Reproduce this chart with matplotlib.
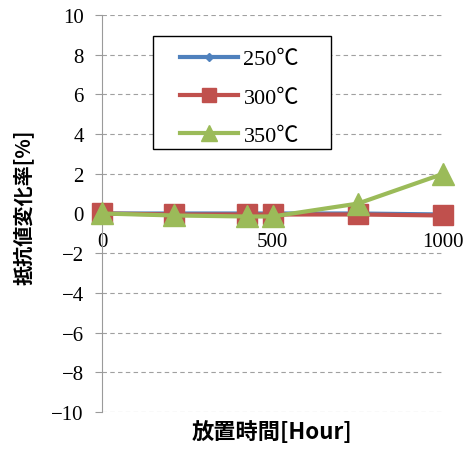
import matplotlib
matplotlib.use("Agg")
import matplotlib.pyplot as plt
from matplotlib.patches import Rectangle

hours = [0, 212, 424, 500, 750, 1000]
s250 = [0.0, 0.0, 0.0, 0.0, 0.0, -0.05]
s300 = [0.0, -0.05, -0.05, -0.05, -0.05, -0.1]
s350 = [0.0, -0.1, -0.15, -0.15, 0.5, 2.0]
series_labels = ["250℃", "300℃", "350℃"]
yticks = [-10, -8, -6, -4, -2, 0, 2, 4, 6, 8, 10]
xticks = [0, 500, 1000]

num_font = ["Liberation Serif", "Noto Sans CJK JP"]
jp_font = ["Noto Sans CJK JP", "DejaVu Sans"]

fig = plt.figure(figsize=(4.7, 4.52), dpi=100)
ax = fig.add_axes([0.217, 0.0863, 0.726, 0.8783])

for s in ["top", "right"]:
    ax.spines[s].set_visible(False)
ax.spines["left"].set_color("#9A9A9A")
ax.spines["bottom"].set_position(("data", 0))
ax.spines["bottom"].set_color("#9A9A9A")

ax.plot(hours, s250, color="#4F81BD", lw=3, marker="D", ms=6, label=series_labels[0], zorder=3, clip_on=False)
ax.plot(hours, s300, color="#C0504D", lw=3, marker="s", ms=15, label=series_labels[1], zorder=4, clip_on=False)
ax.plot(hours, s350, color="#9BBB59", lw=3, marker="^", ms=16, label=series_labels[2], zorder=5, clip_on=False)

ax.set_xlim(0, 1000)
ax.set_ylim(-10, 10)
ax.set_yticks(yticks)
ax.set_xticks(xticks)
ax.set_yticklabels([str(v).replace("-", "−") for v in yticks], fontfamily=num_font, fontsize=15)
ax.set_xticklabels([str(v) for v in xticks], fontfamily=num_font, fontsize=15)

for y in yticks:
    if y != 0:
        ax.axhline(y, color="#A0A0A0", lw=0.8, ls=(0, (4, 3)), zorder=1)

ax.tick_params(axis="y", length=5, color="#9A9A9A", pad=8)
ax.tick_params(axis="x", length=0, pad=13)

fig.text(23 / 470, 1 - 207 / 452, "抵抗値変化率[%]", rotation=90, ha="center", va="center",
         fontfamily=jp_font, fontsize=14.5, fontweight="bold")
fig.text(272 / 470, 1 - 433 / 452, "放置時間[Hour]", ha="center", va="center",
         fontfamily=jp_font, fontsize=16, fontweight="bold")

leg = ax.legend(loc="upper left", bbox_to_anchor=(0.229, 0.915), frameon=False,
                markerscale=0.7, handlelength=2.6, handletextpad=0.25,
                borderpad=0, borderaxespad=0, labelspacing=0.8,
                prop={"family": num_font, "size": 16})
leg.set_zorder(7)
ax.add_patch(Rectangle((0.1496, 0.6625), 0.522, 0.2845, transform=ax.transAxes,
                       facecolor="white", edgecolor="black", lw=1.0, zorder=6))

fig.savefig("out.png", dpi=100)
